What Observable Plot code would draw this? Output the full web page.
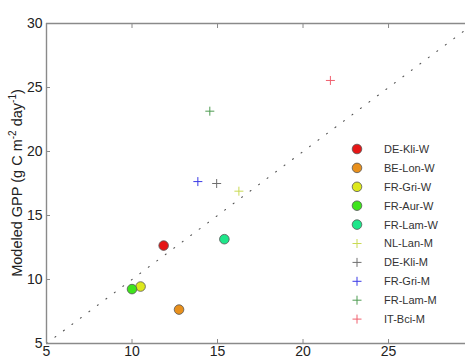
<!DOCTYPE html>
<html>
<head>
<meta charset="utf-8">
<script src="https://cdn.jsdelivr.net/npm/d3@7"></script>
<script src="https://cdn.jsdelivr.net/npm/@observablehq/plot@0.6"></script>
<style>
  html, body { margin: 0; padding: 0; background: #fff; }
  #chart { position: relative; width: 465px; height: 362px; }
  svg { font-family: "Liberation Sans", Arial, sans-serif; }
</style>
</head>
<body>
<div id="chart"></div>
<script>
// Site labels, measured GPP (x) and modelled GPP (y), g C m-2 day-1
const sites    = ["DE-Kli-W", "BE-Lon-W", "FR-Gri-W", "FR-Aur-W", "FR-Lam-W",
                  "NL-Lan-M", "DE-Kli-M", "FR-Gri-M", "FR-Lam-M", "IT-Bci-M"];
const observed = [11.85, 12.75, 10.5, 10.0, 15.4, 16.25, 14.95, 13.85, 14.55, 21.6];
const modeled  = [12.65,  7.65,  9.45,  9.25, 13.15, 16.9, 17.5, 17.65, 23.15, 25.55];
const markers  = ["circle", "circle", "circle", "circle", "circle",
                  "plus", "plus", "plus", "plus", "plus"];
const colors   = ["#e61616", "#e8901c", "#dde81c", "#3ee41c", "#1ee68a",
                  "#c9da55", "#6e6e6e", "#3b3be6", "#4f9c52", "#f0606e"];

const xTicks = [5, 10, 15, 20, 25];
const yTicks = [5, 10, 15, 20, 25, 30];
const xDomain = [5, 29.5];
const yDomain = [5, 30];
const oneToOne = [5, 30];

const rows = sites.map((s, i) => ({
  site: s, obs: observed[i], mod: modeled[i], marker: markers[i], color: colors[i]
}));
const rounds = rows.filter(d => d.marker === "circle");
const crosses = rows.filter(d => d.marker === "plus");

// thin stroked plus sign
const plusSymbol = {
  draw(ctx, size) {
    const r = Math.sqrt(size / Math.PI);
    ctx.moveTo(-r, 0); ctx.lineTo(r, 0);
    ctx.moveTo(0, -r); ctx.lineTo(0, r);
  }
};

const axisColor = "#8a8a8a";
const textColor = "#222";

const plot = Plot.plot({
  width: 465,
  height: 362,
  marginLeft: 46,
  marginRight: 0,
  marginTop: 23,
  marginBottom: 19,
  style: { fontSize: "14px", fontFamily: "'Liberation Sans', Arial, sans-serif", background: "#fff" },
  x: { domain: xDomain },
  y: { domain: yDomain },
  marks: [
    // 1:1 reference line
    Plot.line(oneToOne, {
      x: d => d, y: d => d, stroke: "#555", strokeWidth: 1.1,
      strokeDasharray: "1,9.6", strokeLinecap: "round", clip: true
    }),
    // frame lines (left, bottom, top)
    Plot.ruleX([xDomain[0]], { stroke: axisColor, strokeWidth: 1.4 }),
    Plot.ruleY([yDomain[0], yDomain[1]], { stroke: axisColor, strokeWidth: 1.4 }),
    // inward ticks
    Plot.axisX(xTicks, { anchor: "bottom", tickSize: -4, text: null, stroke: axisColor, label: null }),
    Plot.axisX(xTicks, { anchor: "top", tickSize: -4, text: null, stroke: axisColor, label: null }),
    Plot.axisY(yTicks, { anchor: "left", tickSize: -4, text: null, stroke: axisColor, label: null }),
    // tick labels
    Plot.axisX(xTicks, { anchor: "bottom", tickSize: 0, tickPadding: 3, fill: textColor, label: null, fontSize: 14 }),
    Plot.axisY(yTicks, { anchor: "left", tickSize: 0, tickPadding: 4, fill: textColor, label: null, fontSize: 14 }),
    // model sites (circles)
    Plot.dot(rounds, {
      x: "obs", y: "mod", r: 4.8, fill: d => d.color, stroke: "#555", strokeWidth: 0.8
    }),
    // measured sites (plus signs)
    Plot.dot(crosses, {
      x: "obs", y: "mod", r: 4.5, symbol: () => plusSymbol, fill: "none",
      stroke: d => d.color, strokeWidth: 1
    })
  ]
});

document.getElementById("chart").appendChild(plot);

const svg = d3.select(plot);

// y-axis title with superscripts
const title = svg.append("text")
  .attr("transform", "translate(22,183) rotate(-90)")
  .attr("text-anchor", "middle")
  .attr("fill", textColor)
  .attr("font-size", 14.5);
title.append("tspan").text("Modeled GPP (g C m");
title.append("tspan").attr("font-size", 10).attr("dy", -6).text("-2");
title.append("tspan").attr("dy", 6).text(" day");
title.append("tspan").attr("font-size", 10).attr("dy", -6).text("-1");
title.append("tspan").attr("dy", 6).text(")");

// legend
const legend = svg.append("g").attr("transform", "translate(357,149)");
const item = legend.selectAll("g").data(rows).join("g")
  .attr("transform", (d, i) => `translate(0,${i * 18.9})`);
item.filter(d => d.marker === "circle").append("circle")
  .attr("r", 4.8).attr("fill", d => d.color).attr("stroke", "#555").attr("stroke-width", 0.8);
item.filter(d => d.marker === "plus").append("path")
  .attr("d", "M-4.5,0H4.5M0,-4.5V4.5").attr("fill", "none")
  .attr("stroke", d => d.color).attr("stroke-width", 1);
item.append("text")
  .attr("x", 27).attr("dy", "0.36em")
  .attr("text-anchor", "start")
  .attr("font-size", 11).attr("fill", "#333")
  .text(d => d.site);
</script>
</body>
</html>
